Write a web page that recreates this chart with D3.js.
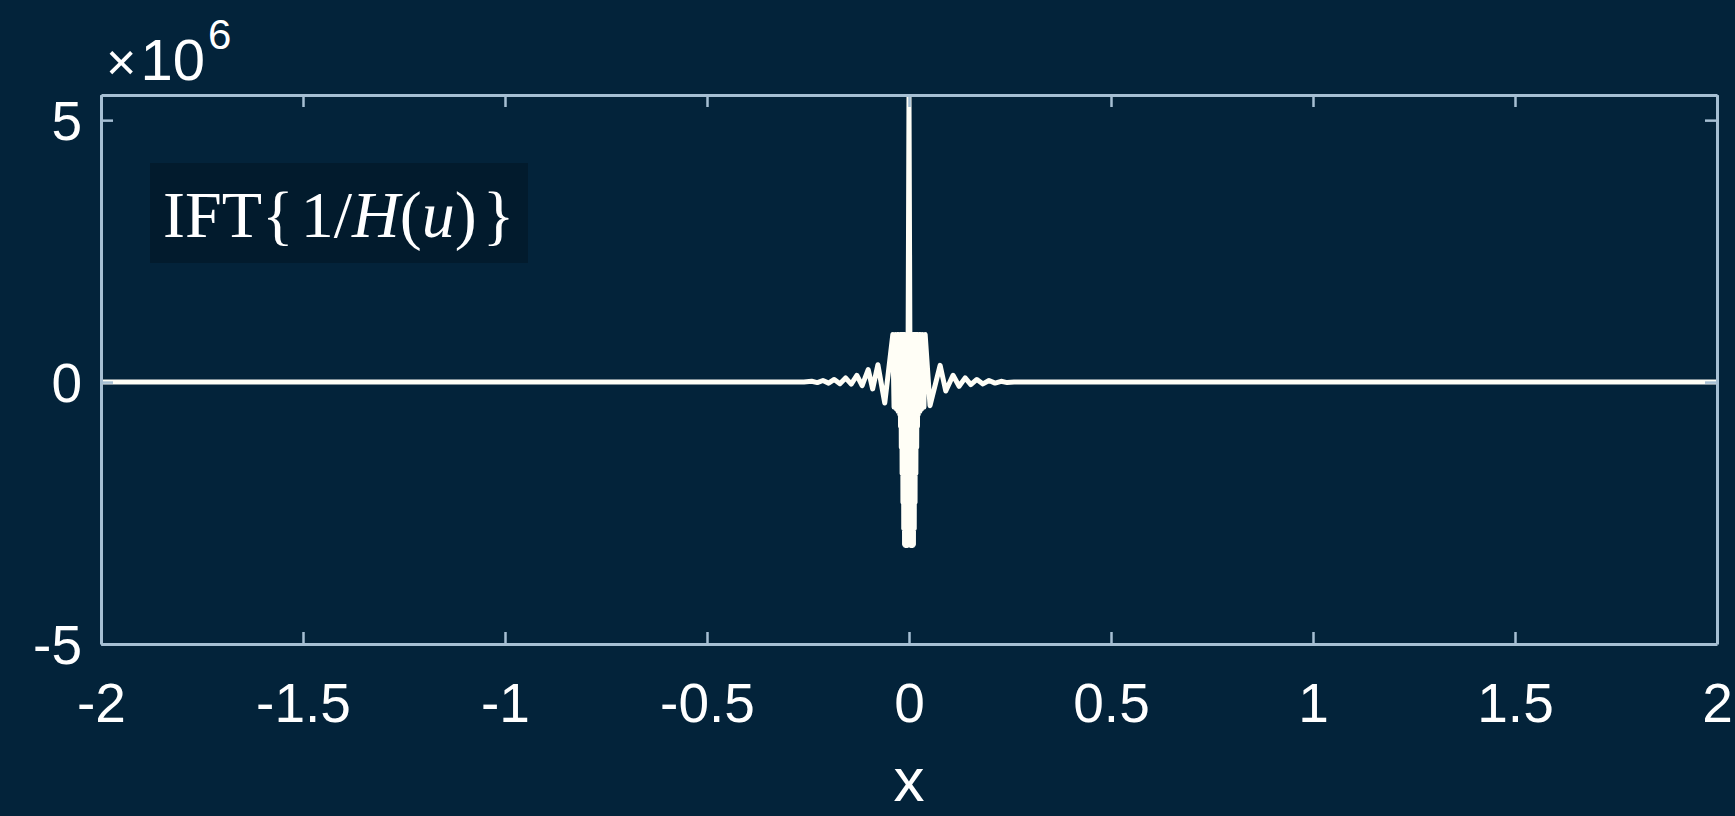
<!DOCTYPE html>
<html>
<head>
<meta charset="utf-8">
<script src="https://cdn.jsdelivr.net/npm/d3@7"></script>
<style>
  html, body { margin: 0; padding: 0; background: #04243a; }
  svg { display: block; }
</style>
</head>
<body>
<svg id="chart" width="1735" height="816"></svg>
<script>
// Axis ticks and labels
const xTicks = [-2, -1.5, -1, -0.5, 0, 0.5, 1, 1.5, 2];
const xTickLabels = ["-2", "-1.5", "-1", "-0.5", "0", "0.5", "1", "1.5", "2"];
const yTicks = [-5, 0, 5];
const yTickLabels = ["-5", "0", "5"];
const xDomain = [-2, 2];
const yDomain = [-5, 5.48];   // in units of 10^6

// Inverse Fourier transform of 1/H(u), sampled (y in units of 10^6)
const sigX = [
  -2, -0.26, -0.241, -0.227, -0.213, -0.199, -0.185, -0.171, -0.157, -0.143,
  -0.129, -0.116, -0.101, -0.090, -0.077, -0.060,
  -0.040, -0.037, -0.034, -0.031, -0.029, -0.027, -0.025, -0.023, -0.022, -0.021,
  -0.020, -0.019, -0.018, -0.017, -0.016, -0.015, -0.014, -0.013, -0.012, -0.011,
  -0.010, -0.009, -0.008, -0.007, -0.006, -0.004,
  0,
  0.004, 0.006, 0.007, 0.008, 0.009, 0.010, 0.011, 0.012, 0.013, 0.014, 0.015,
  0.016, 0.017, 0.018, 0.019, 0.020, 0.021, 0.022, 0.023, 0.025, 0.027,
  0.029, 0.031, 0.034, 0.037, 0.040,
  0.052, 0.077, 0.091, 0.109, 0.124, 0.139, 0.153, 0.168, 0.183, 0.198,
  0.213, 0.228, 0.243, 0.26, 2
];
const sigY = [
  0, 0, 0.015, -0.01, 0.03, -0.02, 0.05, -0.03, 0.08, -0.04,
  0.13, -0.07, 0.24, -0.13, 0.33, -0.40,
  0.91, -0.48, 0.91, -0.52, 0.91, -0.56, 0.91, -0.62, 0.91, -0.85,
  0.91, -1.25, 0.91, -1.75, 0.91, -2.3, 0.91, -2.8, 0.91, -3.1,
  0.91, -3.12, 0.91, -3.12, 0.91, -3.12,
  5.48,
  -3.12, 0.91, -3.12, 0.91, -3.12, 0.91, -3.1, 0.91, -2.8, 0.91, -2.3,
  0.91, -1.75, 0.91, -1.25, 0.91, -0.85, 0.91, -0.62, 0.91, -0.56,
  0.91, -0.52, 0.91, -0.48, 0.91,
  -0.45, 0.32, -0.17, 0.13, -0.08, 0.08, -0.05, 0.05, -0.035, 0.03,
  -0.02, 0.015, -0.01, 0, 0
];

const W = 1735, H = 816;
const plot = { left: 101, right: 1717, top: 95, bottom: 644 };
const axisColor = "#a6bfd3";
const tickFont = "'Liberation Sans', Arial, Helvetica, sans-serif";

const svg = d3.select("#chart");
svg.append("rect").attr("width", W).attr("height", H).attr("fill", "#03233a");

const x = d3.scaleLinear().domain(xDomain).range([plot.left, plot.right]);
const y = d3.scaleLinear().domain(yDomain).range([plot.bottom, plot.top]);

// clip region for the data line
svg.append("defs").append("clipPath").attr("id", "plotClip")
  .append("rect")
  .attr("x", plot.left).attr("y", plot.top)
  .attr("width", plot.right - plot.left).attr("height", plot.bottom - plot.top);

// Label box with the formula
const labelBox = svg.append("g");
labelBox.append("rect")
  .attr("x", 150).attr("y", 163).attr("width", 378).attr("height", 100)
  .attr("fill", "#021b2d");
const formula = labelBox.append("text")
  .attr("x", 163).attr("y", 237)
  .attr("fill", "#ffffff")
  .attr("font-family", "'Liberation Serif', 'Times New Roman', serif")
  .attr("font-size", 66);
formula.append("tspan").text("IFT{");
formula.append("tspan").attr("dx", 7).text("1/");
formula.append("tspan").attr("font-style", "italic").text("H");
formula.append("tspan").text("(");
formula.append("tspan").attr("font-style", "italic").text("u");
formula.append("tspan").text(")");
formula.append("tspan").attr("dx", 6).text("}");

// Data line
const line = d3.line()
  .x((d, i) => x(sigX[i]))
  .y((d, i) => y(sigY[i]));

svg.append("path")
  .datum(sigX)
  .attr("clip-path", "url(#plotClip)")
  .attr("d", line)
  .attr("fill", "none")
  .attr("stroke", "#fffef6")
  .attr("stroke-width", 5)
  .attr("stroke-linejoin", "round")
  .attr("stroke-linecap", "round");

// Axes: labelled bottom/left, tick-only top/right, ticks pointing inward
const tickLen = 12;

const gBottom = svg.append("g")
  .attr("transform", `translate(0,${plot.bottom})`)
  .call(d3.axisBottom(x).tickValues(xTicks)
    .tickFormat((d, i) => xTickLabels[i])
    .tickSizeInner(-tickLen).tickSizeOuter(0).tickPadding(39));

const gLeft = svg.append("g")
  .attr("transform", `translate(${plot.left},0)`)
  .call(d3.axisLeft(y).tickValues(yTicks)
    .tickFormat((d, i) => yTickLabels[i])
    .tickSizeInner(-tickLen).tickSizeOuter(0).tickPadding(19));

const gTop = svg.append("g")
  .attr("transform", `translate(0,${plot.top})`)
  .call(d3.axisTop(x).tickValues(xTicks).tickFormat("")
    .tickSizeInner(-tickLen).tickSizeOuter(0));

const gRight = svg.append("g")
  .attr("transform", `translate(${plot.right},0)`)
  .call(d3.axisRight(y).tickValues(yTicks).tickFormat("")
    .tickSizeInner(-tickLen).tickSizeOuter(0));

[gBottom, gLeft, gTop, gRight].forEach(g => {
  g.select(".domain").attr("stroke", axisColor).attr("stroke-width", 3);
  g.selectAll(".tick line").attr("stroke", axisColor).attr("stroke-width", 2.5);
  g.selectAll(".tick text")
    .attr("fill", "#ffffff")
    .attr("font-family", tickFont)
    .attr("font-size", 55);
});
gLeft.selectAll(".tick text").attr("dy", "0.36em");

// Exponent label above the y axis
const expo = svg.append("text")
  .attr("x", 106).attr("y", 80)
  .attr("fill", "#ffffff")
  .attr("font-family", tickFont)
  .attr("font-size", 58);
expo.append("tspan").attr("font-size", 52).attr("font-weight", 300).text("\u00d7");
expo.append("tspan").attr("dx", 4).text("10");
expo.append("tspan").attr("font-size", 42).attr("dx", 3).attr("dy", -31).text("6");

// x axis title
svg.append("text")
  .attr("x", x(0)).attr("y", 801)
  .attr("text-anchor", "middle")
  .attr("fill", "#ffffff")
  .attr("font-family", tickFont)
  .attr("font-size", 62)
  .text("x");
</script>
</body>
</html>
